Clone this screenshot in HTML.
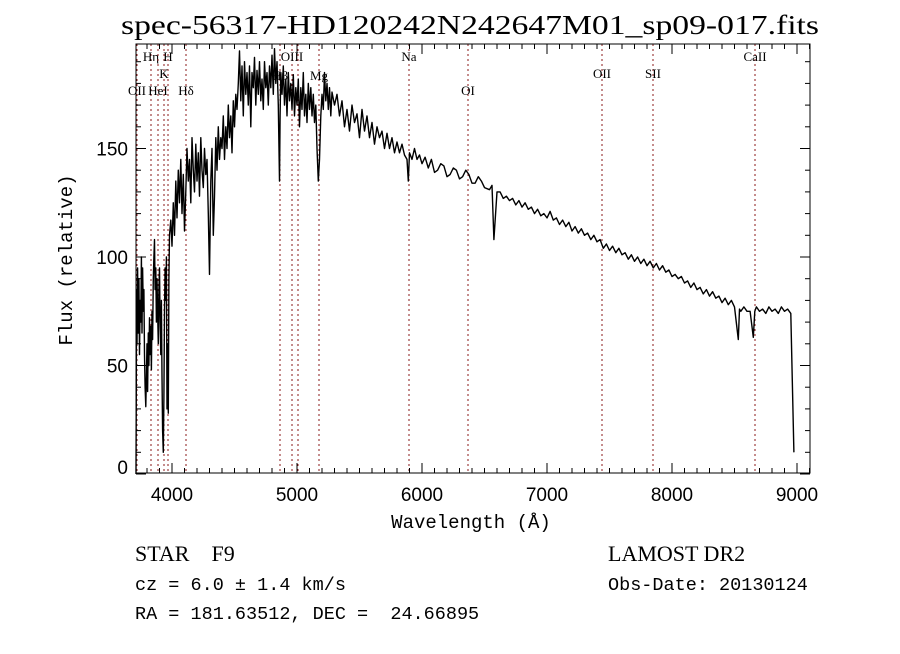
<!DOCTYPE html>
<html><head><meta charset="utf-8"><style>
body{margin:0;background:#fff;}
svg text{font-family:"Liberation Serif",serif;fill:#000;white-space:pre;}
.mono{font-family:"Liberation Mono",monospace;}
</style></head><body>
<svg width="900" height="649" xmlns="http://www.w3.org/2000/svg">
<rect width="900" height="649" fill="#fff"/>
<text x="470" y="34" font-size="27" text-anchor="middle" textLength="698" lengthAdjust="spacingAndGlyphs">spec-56317-HD120242N242647M01_sp09-017.fits</text>
<g id="lines"></g>
<g id="spec"></g>
<rect x="136" y="44" width="674" height="429" fill="none" stroke="#000" stroke-width="1"/>
<g id="axes"></g>
<text x="471" y="528" font-size="19" text-anchor="middle" class="mono">Wavelength (Å)</text>
<text transform="translate(72,260) rotate(-90)" font-size="19" text-anchor="middle" class="mono">Flux (relative)</text>
<text x="135" y="561" font-size="22" xml:space="preserve">STAR    F9</text>
<text x="135" y="590" font-size="18.5" class="mono" xml:space="preserve">cz = 6.0 ± 1.4 km/s</text>
<text x="135" y="619" font-size="18.5" class="mono" xml:space="preserve">RA = 181.63512, DEC =  24.66895</text>
<text x="608" y="561" font-size="22">LAMOST DR2</text>
<text x="608" y="590" font-size="18.5" class="mono">Obs-Date: 20130124</text>
</svg>
<script>
const waves=[3712,3714,3716,3720,3725,3730,3735,3740,3745,3750,3755,3760,3765,3770,3775,3780,3785,3790,3795,3800,3805,3810,3815,3820,3825,3830,3835,3840,3845,3850,3855,3860,3865,3870,3875,3880,3885,3890,3895,3900,3905,3910,3915,3920,3925,3930,3935,3940,3945,3950,3955,3960,3965,3970,3975,3980,3990,4000,4010,4020,4030,4040,4050,4060,4070,4080,4090,4100,4110,4120,4130,4140,4150,4160,4170,4180,4190,4200,4210,4220,4230,4240,4250,4260,4270,4280,4290,4300,4310,4320,4330,4340,4350,4360,4370,4380,4390,4400,4410,4420,4430,4440,4450,4460,4470,4480,4490,4500,4510,4520,4530,4540,4550,4560,4570,4580,4590,4600,4610,4620,4630,4640,4650,4660,4670,4680,4690,4700,4710,4720,4730,4740,4750,4760,4770,4780,4790,4800,4810,4820,4830,4840,4850,4860,4865,4870,4880,4890,4900,4910,4920,4930,4940,4950,4960,4970,4980,4990,5000,5010,5020,5030,5040,5050,5060,5070,5080,5090,5100,5110,5120,5130,5140,5150,5160,5170,5180,5190,5200,5210,5220,5230,5240,5250,5260,5270,5280,5300,5320,5340,5360,5380,5400,5420,5440,5460,5480,5500,5520,5540,5560,5580,5600,5620,5640,5660,5680,5700,5720,5740,5760,5780,5800,5820,5840,5860,5880,5890,5900,5920,5940,5960,5980,6000,6025,6050,6075,6100,6125,6150,6175,6200,6225,6250,6275,6300,6325,6350,6375,6400,6425,6450,6475,6500,6540,6560,6575,6600,6625,6650,6675,6700,6725,6750,6775,6800,6825,6850,6875,6900,6925,6950,6975,7000,7025,7050,7075,7100,7125,7150,7175,7200,7225,7250,7275,7300,7325,7350,7375,7400,7425,7450,7475,7500,7525,7550,7575,7600,7625,7650,7675,7700,7725,7750,7775,7800,7825,7850,7875,7900,7925,7950,7975,8000,8025,8050,8075,8100,8125,8150,8175,8200,8225,8250,8275,8300,8325,8350,8375,8400,8425,8450,8475,8500,8530,8540,8550,8575,8600,8625,8650,8662,8675,8700,8725,8750,8775,8800,8825,8850,8875,8900,8925,8950,8975,8990,9000];
const flux=[0,40,85,60,95,65,90,55,80,70,100,65,95,75,85,55,40,31,45,60,38,65,50,72,55,68,48,75,62,90,100,108,85,95,70,90,75,60,85,95,70,55,80,45,20,10,35,75,95,80,100,30,60,28,90,110,117,105,125,110,135,118,140,125,145,120,138,112,130,150,135,145,125,155,140,130,152,135,148,128,155,140,132,150,138,145,120,92,135,150,110,128,155,140,160,145,155,150,165,145,160,150,170,155,165,148,172,160,175,168,180,195,172,188,165,190,175,185,170,188,160,185,178,192,170,186,175,190,172,182,168,190,178,185,170,188,178,193,175,196,180,190,170,135,165,185,175,188,170,182,165,185,172,180,168,184,165,178,170,182,160,178,168,185,165,175,162,180,168,178,165,175,162,170,150,135,145,165,175,168,185,172,180,168,178,165,176,170,175,165,172,160,168,158,170,162,166,155,168,158,165,155,162,152,160,155,158,150,157,150,155,148,153,148,152,147,145,135,148,145,150,145,147,143,146,141,145,139,140,143,142,137,138,141,140,136,137,140,138,134,134,137,135,132,131,133,108,130,130,127,128,126,127,124,126,123,125,122,123,120,122,119,120,118,121,117,118,115,117,114,116,112,114,111,113,110,111,108,110,107,108,104,106,103,105,102,104,101,102,99,101,98,100,97,99,96,98,95,97,94,96,93,94,91,92,90,91,88,89,86,88,85,86,83,85,82,84,81,82,79,81,78,80,77,62,76,75,77,75,75,63,75,77,75,76,74,77,75,76,74,77,75,76,74,10];
const lineWaves=[3720,3832,3888,3936,3968,4112,4864,4960,5008,5176,5896,6368,7440,7848,8664];
const lineLabels=["OII","Hη","HeI","K","H","Hδ","Hβ","OIII","","Mg","Na","OI","OII","SII","CaII"];
const lineRows=[95,61,95,78,61,95,80,61,61,80,61,95,78,78,61];
const xTicks=[4000,5000,6000,7000,8000,9000];
const yTicks=[0,50,100,150];
const NS="http://www.w3.org/2000/svg";
const X=w=>172+(w-4000)*0.125;
const Y=v=>474-v*2.17;
function mk(t,a,p){const e=document.createElementNS(NS,t);for(const k in a)e.setAttribute(k,a[k]);p.appendChild(e);return e;}
const lg=document.getElementById('lines');
lineWaves.forEach((w,i)=>{
  const l=mk('line',{x1:X(w),x2:X(w),y1:44,y2:473,stroke:'#8b1a1a','stroke-width':1,'stroke-dasharray':'2,3'},lg);
  
  
  if(lineLabels[i]){const t=mk('text',{x:X(w),y:lineRows[i],'font-size':13,'text-anchor':'middle'},lg);t.textContent=lineLabels[i];
  
  }
});
const sg=document.getElementById('spec');
let d='';waves.forEach((w,i)=>{d+=(i?'L':'M')+X(w).toFixed(1)+','+Y(flux[i]).toFixed(1);});
const p=mk('path',{d:d,fill:'none',stroke:'#000','stroke-width':1.4,'stroke-linejoin':'round'},sg);


const ax=document.getElementById('axes');
for(let w=3800;w<=9100;w+=100){const maj=w%1000===0;const L=maj?10:5;
  mk('line',{x1:X(w),x2:X(w),y1:473,y2:473-L,stroke:'#000'},ax);
  mk('line',{x1:X(w),x2:X(w),y1:44,y2:44+L,stroke:'#000'},ax);}
xTicks.forEach(w=>{const t=mk('text',{x:X(w),y:501,'font-size':19,'text-anchor':'middle',style:"font-family:'Liberation Sans',sans-serif"},ax);t.textContent=w;
  
  });
for(let v=0;v<=190;v+=10){const maj=v%50===0;const L=maj?10:5;
  mk('line',{x1:136,x2:136+L,y1:Y(v),y2:Y(v),stroke:'#000'},ax);
  mk('line',{x1:810,x2:810-L,y1:Y(v),y2:Y(v),stroke:'#000'},ax);}
yTicks.forEach(v=>{const t=mk('text',{x:128,y:Y(v)+(v===0?0:7),'font-size':19,'text-anchor':'end',style:"font-family:'Liberation Sans',sans-serif"},ax);t.textContent=v;
  
  });
</script>
</body></html>
